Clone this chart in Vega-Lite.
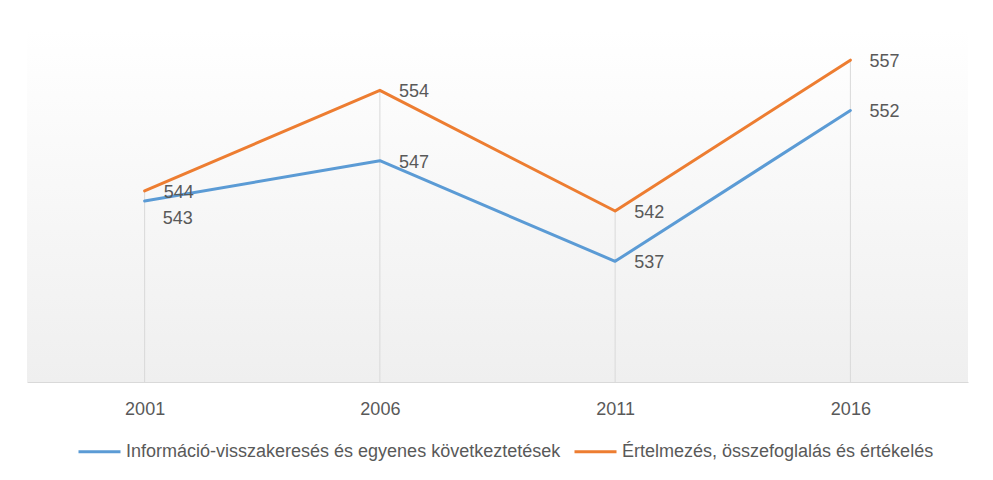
{
  "$schema": "https://vega.github.io/schema/vega-lite/v6.json",
  "width": 941,
  "height": 352,
  "autosize": {"type": "none"},
  "padding": {"left": 27, "top": 30, "right": 25, "bottom": 98},
  "background": "#ffffff",
  "config": {
    "font": "Liberation Sans",
    "view": {
      "stroke": null,
      "fill": {
        "gradient": "linear",
        "x1": 0, "y1": 0, "x2": 0, "y2": 1,
        "stops": [
          {"offset": 0, "color": "#ffffff"},
          {"offset": 1, "color": "#efefef"}
        ]
      }
    }
  },
  "data": {
    "values": [
      {"year": "2001", "series": "Információ-visszakeresés és egyenes következtetések", "score": 543},
      {"year": "2006", "series": "Információ-visszakeresés és egyenes következtetések", "score": 547},
      {"year": "2011", "series": "Információ-visszakeresés és egyenes következtetések", "score": 537},
      {"year": "2016", "series": "Információ-visszakeresés és egyenes következtetések", "score": 552},
      {"year": "2001", "series": "Értelmezés, összefoglalás és értékelés", "score": 544},
      {"year": "2006", "series": "Értelmezés, összefoglalás és értékelés", "score": 554},
      {"year": "2011", "series": "Értelmezés, összefoglalás és értékelés", "score": 542},
      {"year": "2016", "series": "Értelmezés, összefoglalás és értékelés", "score": 557}
    ]
  },
  "encoding": {
    "x": {
      "field": "year",
      "type": "ordinal",
      "scale": {"type": "point", "padding": 0.5},
      "axis": {
        "title": null,
        "labelAngle": 0,
        "ticks": false,
        "domainColor": "#d9d9d9",
        "domainWidth": 1,
        "labelFont": "Liberation Sans",
        "labelFontSize": 18,
        "labelColor": "#595959",
        "labelPadding": 18,
        "grid": false
      }
    },
    "y": {
      "field": "score",
      "type": "quantitative",
      "scale": {"domain": [525, 560], "zero": false, "nice": false},
      "axis": null
    }
  },
  "layer": [
    {
      "transform": [{"filter": "datum.series === 'Értelmezés, összefoglalás és értékelés'"}],
      "mark": {"type": "rule", "color": "#d9d9d9", "strokeWidth": 1},
      "encoding": {
        "y2": {"datum": 525}
      }
    },
    {
      "mark": {"type": "line", "strokeWidth": 3, "strokeCap": "round", "strokeJoin": "round"},
      "encoding": {
        "color": {
          "field": "series",
          "type": "nominal",
          "scale": {
            "domain": ["Információ-visszakeresés és egyenes következtetések", "Értelmezés, összefoglalás és értékelés"],
            "range": ["#5b9bd5", "#ed7d31"]
          },
          "legend": {
            "title": null,
            "orient": "none",
            "legendX": 50,
            "legendY": 399,
            "direction": "horizontal",
            "symbolType": "stroke",
            "symbolSize": 1764,
            "symbolStrokeWidth": 3,
            "labelFont": "Liberation Sans",
            "labelFontSize": 18,
            "labelColor": "#595959",
            "labelOffset": 4,
            "columnPadding": 7,
            "labelLimit": 600
          }
        }
      }
    },
    {
      "transform": [{"filter": "!(datum.year === '2001' && datum.series === 'Információ-visszakeresés és egyenes következtetések')"}],
      "mark": {"type": "text", "align": "left", "baseline": "middle", "dx": 19, "dy": 2, "fontSize": 18, "font": "Liberation Sans", "color": "#595959"},
      "encoding": {"text": {"field": "score", "type": "quantitative"}}
    },
    {
      "transform": [{"filter": "datum.year === '2001' && datum.series === 'Információ-visszakeresés és egyenes következtetések'"}],
      "mark": {"type": "text", "align": "left", "baseline": "middle", "dx": 18, "dy": 18, "fontSize": 18, "font": "Liberation Sans", "color": "#595959"},
      "encoding": {"text": {"field": "score", "type": "quantitative"}}
    }
  ]
}
